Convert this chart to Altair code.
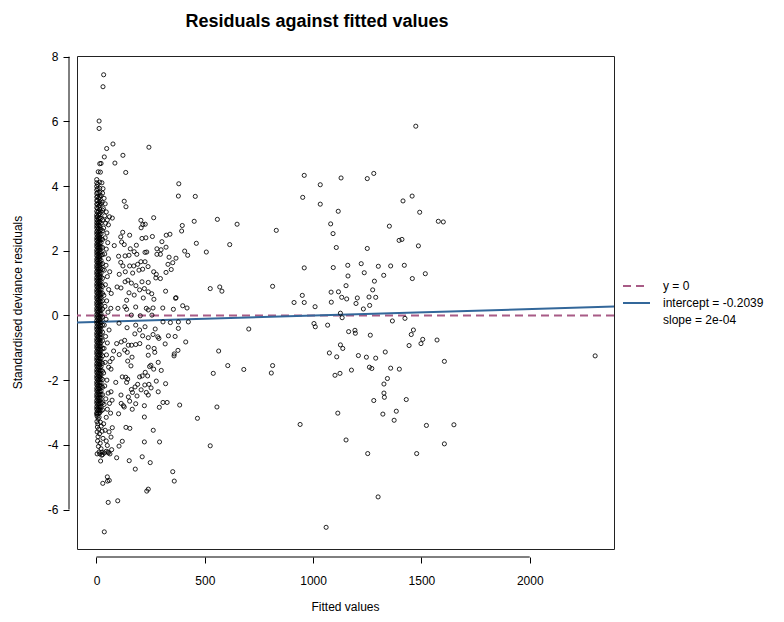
import altair as alt
import pandas as pd

# ---------------- data ----------------
# dense vertical band of fitted values close to 0: one list of residuals per fitted value
band_x = [1, 5, 10, 15, 21, 28]
band_a = [4.20, 4.10, 3.99, 3.88, 3.77, 3.66, 3.55, 3.44, 3.33, 3.22, 3.11, 3.04,
          2.96, 2.87, 2.78, 2.70, 2.59, 2.51, 2.40, 2.32, 2.21, 2.13, 2.02, 1.94, 1.85, 1.74,
          1.66, 1.55, 1.47, 1.36, 1.28, 1.17, 1.09, 0.98, 0.90, 0.79, 0.71, 0.60, 0.52, 0.41,
          0.33, 0.22, 0.14, 0.03, -0.05, -0.16, -0.24, -0.35, -0.43, -0.54, -0.62, -0.73,
          -0.81, -0.92, -1.00, -1.11, -1.19, -1.30, -1.38, -1.49, -1.57, -1.68, -1.76, -1.87,
          -1.95, -2.06, -2.14, -2.25, -2.33, -2.44, -2.52, -2.63, -2.71, -2.82, -2.90, -3.01, -3.06]
band_b = [4.05, 3.92, 3.80, 3.68, 3.55, 3.43, 3.30, 3.18, 3.05, 2.92, 2.83, 2.74, 2.64, 2.55,
          2.45, 2.36, 2.26, 2.17, 2.08, 1.98, 1.89, 1.79, 1.70, 1.61, 1.51, 1.42, 1.32, 1.23,
          1.13, 1.04, 0.94, 0.85, 0.75, 0.66, 0.56, 0.47, 0.37, 0.28, 0.18, 0.09, -0.01, -0.10,
          -0.20, -0.29, -0.39, -0.48, -0.58, -0.67, -0.77, -0.86, -0.96, -1.05, -1.15, -1.24,
          -1.34, -1.43, -1.53, -1.62, -1.72, -1.81, -1.91, -2.00, -2.10, -2.19, -2.29, -2.38,
          -2.48, -2.57, -2.67, -2.76, -2.86, -2.95, -3.04]
band_c = [3.62, 3.48, 3.37, 3.21, 3.10, 2.99, 2.88, 2.79, 2.69, 2.57, 2.48, 2.38, 2.29, 2.19,
          2.10, 2.00, 1.90, 1.81, 1.72, 1.62, 1.53, 1.44, 1.35, 1.25, 1.16, 1.06, 0.97, 0.87,
          0.78, 0.69, 0.59, 0.50, 0.40, 0.31, 0.21, 0.12, 0.02, -0.07, -0.17, -0.26, -0.36,
          -0.45, -0.55, -0.64, -0.74, -0.83, -0.93, -1.02, -1.12, -1.21, -1.31, -1.40, -1.50,
          -1.59, -1.69, -1.78, -1.88, -1.97, -2.07, -2.16, -2.26, -2.35, -2.45, -2.54, -2.64,
          -2.73, -2.83, -2.92, -3.02]
band_d = [4.12, 3.93, 3.80, 3.66, 3.52, 3.41, 3.28, 3.15, 3.02, 2.90, 2.77, 2.62, 2.50, 2.41,
          2.33, 2.23, 2.12, 2.03, 1.94, 1.84, 1.75, 1.65, 1.56, 1.47, 1.37, 1.28, 1.19, 1.09,
          1.00, 0.91, 0.81, 0.72, 0.63, 0.53, 0.44, 0.35, 0.25, 0.16, 0.07, -0.03, -0.12, -0.21,
          -0.31, -0.40, -0.49, -0.59, -0.68, -0.77, -0.87, -0.96, -1.05, -1.15, -1.24, -1.33,
          -1.43, -1.52, -1.61, -1.71, -1.80, -1.89, -1.99, -2.08, -2.17, -2.27, -2.36, -2.45,
          -2.55, -2.64, -2.73, -2.83, -2.92, -3.01]
band_e = [3.70, 3.45, 3.20, 3.00, 2.85, 2.66, 2.52, 2.36, 2.25, 2.11, 1.97, 1.86, 1.70, 1.58,
          1.45, 1.31, 1.19, 1.05, 0.93, 0.80, 0.66, 0.55, 0.42, 0.30, 0.16, 0.05, -0.08, -0.20,
          -0.33, -0.45, -0.58, -0.70, -0.83, -0.95, -1.08, -1.20, -1.33, -1.45, -1.58, -1.70,
          -1.83, -1.95, -2.08, -2.20, -2.33, -2.45, -2.58, -2.70, -2.83, -2.95]
band_f = [3.25, 2.95, 2.62, 2.35, 2.10, 1.88, 1.60, 1.42, 1.15, 0.90, 0.68, 0.45, 0.20, -0.05,
          -0.30, -0.52, -0.78, -1.02, -1.25, -1.48, -1.72, -1.98, -2.22, -2.45, -2.70, -2.92]
band_cols = [band_a, band_b, band_c, band_d, band_e, band_f]

# fringe of the band (fitted values below about 75)
fringe_x = [15, 21, 8, 18, 25, 30, 28, 35, 26, 40, 32, 45, 38, 50, 42, 55, 60, 33, 48, 40,
            52, 45, 38, 55, 44, 36, 50, 41, 56, 34, 47, 39, 53, 44, 36, 58, 42, 50, 35, 46,
            40, 56, 33, 48, 38, 54, 43, 35, 50, 60, 65,
            3, 8, 2, 12, 6, 18, 4, 10, 22, 3, 14, 7, 26, 5, 17, 30, 9, 21, 12, 3, 36, 28,
            45, 55, 62, 40, 33, 45, 58, 50, 19, 24, 70, 15, 25, 53]
fringe_y = [4.69, 4.70, 4.44, 4.43, 4.10, 3.92, 3.78, 3.62, 3.50, 3.45, 3.30, 3.20, 3.08,
            2.95, 2.85, 2.80, 3.05, 2.70, 2.55, 2.40, 2.25, 2.05, 1.90, 1.75, 1.55, 1.40,
            1.20, 0.95, 0.80, 0.62, 0.45, 0.28, 0.10, -0.12, -0.30, -0.45, -0.65, -0.85,
            -1.02, -1.22, -1.45, -1.60, -1.78, -2.00, -2.18, -2.40, -2.58, -2.75, -2.90,
            -2.72, -3.02,
            -3.12, -3.20, -3.28, -3.15, -3.35, -3.30, -3.45, -3.52, -3.42, -3.60, -3.66,
            -3.75, -3.58, -3.88, -3.95, -3.80, -4.05, -4.12, -4.22, -4.28, -4.25, -4.30,
            -4.20, -4.25, -4.28, -3.55, -3.35, -3.15, -3.60, -4.02, -4.50, -4.32, -4.15,
            -4.28, -4.23, -4.22]

# scattered observations with fitted values up to ~470
mid_x = [33, 30, 12, 12, 76, 47, 242, 36, 122, 85, 135, 380, 378, 456, 128, 136, 264, 451,
         205, 214, 225, 206, 396, 393, 73, 121, 112, 153, 210, 228, 258, 322, 339, 461, 116,
         128, 184, 82, 302, 279, 298, 321, 407, 421, 156, 174, 224, 232, 102, 132, 150, 186,
         279, 295, 335, 367, 352, 330, 112, 122, 153, 172, 190, 205, 224, 238, 213, 196, 133,
         167, 105, 61, 264, 276, 321, 345, 295, 274, 145, 132, 210, 239, 161, 95, 113, 182,
         199, 221, 239, 255, 319, 367, 68, 150, 174,
         139, 216, 265, 365, 66, 99, 131, 139, 181, 230, 239, 261, 306, 355, 398, 418, 161,
         202, 256, 307, 341, 378, 424, 104, 141, 181, 199, 224, 271, 378, 177, 213, 239, 261,
         283, 288, 332, 363, 412, 317, 114, 130, 93, 147, 162, 181, 200, 239, 266, 130, 142,
         79, 105, 164, 239, 269, 376, 359, 358, 73, 62, 144, 159, 251, 285, 264, 245, 299, 67,
         119, 135, 144, 199, 211, 225, 236, 276, 89, 139, 178, 161, 166, 190, 206, 223, 230,
         242, 252, 319, 113, 67, 147, 187, 239, 285, 114, 124, 153, 181, 307, 326, 290, 384,
         128, 165, 221, 72, 102, 221, 466, 136, 154, 73, 262, 119, 104, 221, 291, 67, 45, 93,
         151, 211, 248, 179, 352, 359, 50, 59, 51, 29, 232, 239, 54, 98, 36]
mid_y = [7.44, 7.07, 6.01, 5.78, 5.30, 5.16, 5.20, 4.90, 4.95, 4.71, 4.42, 4.07, 3.69, 3.68,
         3.53, 3.36, 3.02, 2.91, 2.94, 2.81, 2.82, 2.71, 2.78, 2.61, 3.01, 2.57, 2.43, 2.48,
         2.38, 2.40, 2.44, 2.48, 2.51, 2.23, 2.27, 2.19, 2.17, 2.16, 2.28, 2.06, 2.03, 2.11,
         1.99, 1.86, 2.06, 1.97, 1.95, 1.96, 1.83, 1.84, 1.86, 1.89, 1.89, 1.89, 1.80, 1.77,
         1.63, 1.58, 1.64, 1.53, 1.53, 1.53, 1.58, 1.66, 1.66, 1.51, 1.43, 1.40, 1.35, 1.31,
         1.27, 1.35, 1.35, 1.27, 1.33, 1.42, 1.14, 1.16, 1.09, 1.04, 1.04, 1.02, 1.00, 0.88,
         0.85, 0.92, 0.79, 0.83, 0.73, 0.67, 0.75, 0.55, 0.68, 0.70, 0.63,
         0.47, 0.54, 0.50, 0.53, 0.22, 0.22, 0.27, 0.19, 0.26, 0.22, 0.17, 0.23, 0.23, 0.19,
         0.30, 0.23, 0.01, -0.01, 0.01, -0.20, -0.22, -0.20, -0.20, -0.24, -0.38, -0.30,
         -0.45, -0.35, -0.42, -0.40, -0.57, -0.63, -0.69, -0.59, -0.66, -0.71, -0.63, -0.65,
         -0.82, -0.88, -0.82, -0.77, -0.87, -0.92, -0.92, -0.90, -0.87, -0.98, -1.02, -1.07,
         -1.14, -1.10, -1.21, -1.29, -1.23, -1.14, -1.08, -1.19, -1.25, -1.33, -1.43, -1.41,
         -1.56, -1.54, -1.45, -1.66, -1.58, -1.70, -1.66, -1.90, -1.91, -1.97, -1.90, -1.87,
         -1.76, -1.87, -2.03, -2.07, -2.07, -2.21, -2.29, -2.38, -2.13, -2.30, -2.15, -2.38,
         -2.13, -2.24, -2.11, -2.46, -2.36, -2.52, -2.49, -2.46, -2.36, -2.72, -2.79, -2.65,
         -2.73, -2.69, -2.69, -2.84, -2.77, -2.83, -2.90, -2.79, -2.62, -3.04, -3.14, -3.18,
         -3.46, -3.49, -3.47, -3.55, -3.89, -4.04, -3.91, -3.91, -3.76, -3.88, -4.40, -4.49,
         -4.37, -4.55, -4.75, -4.83, -5.12, -4.99, -5.10, -5.12, -5.19, -5.43, -5.37, -5.78,
         -5.73, -6.69]

# sparse observations with large fitted values
far_x = [959, 1033, 952, 1033, 558, 649, 830, 615, 507, 959, 525, 569, 579, 813, 950, 912,
         959, 1009, 1004, 1010, 703, 564, 606, 539, 680, 813, 807, 556, 940, 525, 1060,
         1474, 1129, 1250, 1280, 1415, 1457, 1116, 1492, 1081, 1352, 1578, 1601, 1092, 1397,
         1410, 1107, 1250, 1486, 1093, 1160, 1222, 1301, 1358, 1421, 1161, 1236, 1326, 1458,
         1518, 1283, 1152, 1083, 1117, 1275, 1132, 1155, 1204, 1258, 1289, 1084, 1198, 1261,
         1232, 1126, 1134, 1067, 1366, 1424, 1164, 1193, 1195, 1264, 1463, 1453, 1506, 1498,
         1572, 1126, 1137, 1443, 1075, 1109, 1209, 1246, 1289, 1333, 1606, 1177, 1260, 1271,
         1358, 1398, 1101, 1124, 1343, 1327, 1327, 1329, 1280, 1430, 1114, 1322, 1384, 1374,
         1523, 1650, 1152, 1252, 1478, 1606, 1300, 2302]
far_y = [4.33, 4.04, 3.65, 3.44, 2.97, 2.82, 2.63, 2.19, 1.96, 1.47, 0.83, 0.88, 0.75, 0.90,
         0.62, 0.40, 0.40, 0.27, -0.25, -0.35, -0.42, -1.10, -1.55, -1.79, -1.67, -1.55,
         -1.78, -2.83, -3.37, -4.03, -6.55,
         5.85, 4.25, 4.23, 4.39, 3.54, 3.69, 3.22, 3.19, 2.83, 2.76, 2.91, 2.89, 2.53, 2.32,
         2.35, 2.10, 2.07, 2.15, 1.48, 1.55, 1.60, 1.52, 1.53, 1.55, 1.22, 1.32, 1.24, 1.14,
         1.29, 1.06, 0.92, 0.72, 0.73, 0.79, 0.56, 0.51, 0.54, 0.57, 0.56, 0.41, 0.37, 0.31,
         0.20, 0.07, -0.07, -0.30, -0.17, -0.09, -0.50, -0.46, -0.55, -0.61, -0.45, -0.59,
         -0.74, -0.87, -0.76, -0.91, -1.02, -0.93, -1.16, -1.28, -1.24, -1.29, -1.32, -1.13,
         -1.42, -1.69, -1.60, -1.64, -1.63, -1.66, -1.85, -1.79, -1.95, -2.12, -2.40, -2.53,
         -2.63, -2.60, -3.02, -3.05, -2.96, -3.24, -3.40, -3.38, -3.85, -4.27, -4.27, -3.97,
         -5.61, -1.25]

# reference lines
intercept = -0.2039
slope = 2e-04
x_domain = [-90, 2389]
y_domain = [-7.22, 8.02]
x_ticks = [0, 500, 1000, 1500, 2000]
y_ticks = [-6, -4, -2, 0, 2, 4, 6, 8]

title_text = "Residuals against fitted values"
x_title = "Fitted values"
y_title = "Standardised deviance residuals"
legend_labels = ["y = 0", "intercept = -0.2039", "slope = 2e-04"]

MAUVE = "#a85b86"
BLUE = "#33679a"
FONT = "Liberation Sans"

# ---------------- build tables ----------------
xs, ys = [], []
for bx, col in zip(band_x, band_cols):
    xs += [bx] * len(col)
    ys += col
xs += fringe_x + mid_x + far_x
ys += fringe_y + mid_y + far_y
points = pd.DataFrame({"fitted": xs, "resid": ys})

fit_line = pd.DataFrame({
    "fitted": x_domain,
    "resid": [intercept + slope * v for v in x_domain],
})

W, H = 537, 493

xscale = alt.Scale(domain=x_domain, nice=False, zero=False)
yscale = alt.Scale(domain=y_domain, nice=False, zero=False)

xaxis = alt.Axis(values=x_ticks, title=None, grid=False, domain=False, offset=8,
                 tickSize=6, tickColor="black", tickWidth=1, labelFont=FONT,
                 labelFontSize=12, labelColor="black", labelPadding=12, labelFlush=False,
                 labelExpr="toString(datum.value)")
yaxis = alt.Axis(values=y_ticks, title=None, grid=False, domain=False, offset=8,
                 tickSize=6, tickColor="black", tickWidth=1, labelFont=FONT,
                 labelFontSize=12, labelColor="black", labelPadding=5, labelFlush=False,
                 labelExpr="toString(datum.value)")


def X(field):
    return alt.X(field, type="quantitative", scale=xscale, axis=xaxis)


def Y(field):
    return alt.Y(field, type="quantitative", scale=yscale, axis=yaxis)


pts = alt.Chart(points).mark_point(
    shape="circle", filled=False, size=17, color="black", strokeWidth=0.85, opacity=1
).encode(x=X("fitted"), y=Y("resid"))

zero_line = alt.Chart(pd.DataFrame({"resid": [0]})).mark_rule(
    color=MAUVE, strokeWidth=2, strokeDash=[8, 5]
).encode(y=Y("resid"))

blue_line = alt.Chart(fit_line).mark_line(color=BLUE, strokeWidth=2).encode(
    x=X("fitted"), y=Y("resid")
)

# R style axis lines, running from the first to the last tick, set off from the box
y_axis_line = alt.Chart(pd.DataFrame({"lo": [y_ticks[0]], "hi": [y_ticks[-1]]})).mark_rule(
    color="black", strokeWidth=1
).encode(x=alt.value(-8), y=Y("lo"), y2="hi:Q")
x_axis_line = alt.Chart(pd.DataFrame({"lo": [x_ticks[0]], "hi": [x_ticks[-1]]})).mark_rule(
    color="black", strokeWidth=1
).encode(y=alt.value(H + 8), x=X("lo"), x2="hi:Q")


def label(text, x, y, size=12, weight="normal", align="center", angle=0, baseline="middle"):
    return alt.Chart(pd.DataFrame({"t": [text]})).mark_text(
        font=FONT, fontSize=size, fontWeight=weight, color="black",
        baseline=baseline, align=align, angle=angle
    ).encode(text="t:N", x=alt.value(x), y=alt.value(y))


title_mark = label(title_text, 240, -34, size=18, weight="bold")
xtitle_mark = label(x_title, W / 2, H + 62, baseline="alphabetic")
ytitle_mark = label(y_title, -59, H / 2, angle=270)

# legend (outside the plot, right side)
leg_dash = alt.Chart(pd.DataFrame({"k": [0]})).mark_rule(
    color=MAUVE, strokeWidth=2, strokeDash=[8, 5]
).encode(x=alt.value(546), x2=alt.value(572), y=alt.value(230))
leg_blue = alt.Chart(pd.DataFrame({"k": [0]})).mark_rule(
    color=BLUE, strokeWidth=2
).encode(x=alt.value(546), x2=alt.value(573), y=alt.value(247))
leg_rows = [label(t, 586, yy, align="left") for t, yy in zip(legend_labels, [230, 247, 264])]

chart = alt.layer(
    zero_line, blue_line, pts, y_axis_line, x_axis_line,
    title_mark, xtitle_mark, ytitle_mark, leg_dash, leg_blue, *leg_rows
).properties(
    width=W, height=H,
    autosize=alt.AutoSizeParams(type="none"),
    padding={"left": 69, "top": 48, "right": 162, "bottom": 65},
).configure_view(stroke="#222222", strokeWidth=1)

chart.save("out.html", embed_options={"renderer": "svg", "actions": False})
